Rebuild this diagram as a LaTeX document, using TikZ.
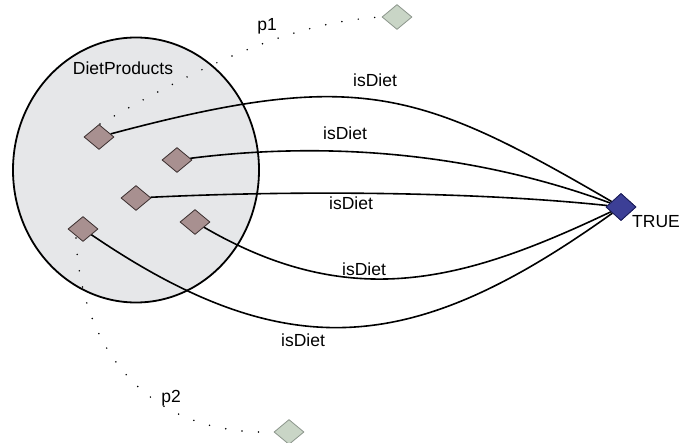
\documentclass[tikz,border=0pt]{standalone}
\usepackage{fontspec}
\setmainfont{Liberation Sans}
\usetikzlibrary{shapes.geometric}
\definecolor{setfill}{HTML}{E6E7E9}
\definecolor{brownfill}{HTML}{A89090}
\definecolor{brownline}{HTML}{3A2E2E}
\definecolor{greenfill}{HTML}{C9D5C6}
\definecolor{greenline}{HTML}{8C968C}
\definecolor{truefill}{HTML}{3C3F96}
\definecolor{trueline}{HTML}{1C1E5A}
\tikzset{
  item/.style={shape=diamond, draw=brownline, fill=brownfill, line width=0.8pt, minimum width=30pt, minimum height=25pt, inner sep=0pt},
  val/.style={shape=diamond, draw=greenline, fill=greenfill, line width=0.8pt, minimum width=30pt, minimum height=25pt, inner sep=0pt},
  truebox/.style={shape=diamond, draw=trueline, fill=truefill, line width=0.8pt, minimum width=30pt, minimum height=27pt, inner sep=0pt},
  rel/.style={draw=black, line width=1.6pt},
  prop/.style={draw=black, line width=1.7pt, line cap=round, dash pattern=on 0pt off 16.5pt},
  lbl/.style={font=\fontsize{17.5}{20}\selectfont, inner sep=0pt}
}
\begin{document}
\begin{tikzpicture}[x=1pt,y=-1pt]
\useasboundingbox (0,0) rectangle (679,443);
\node[draw=black, line width=1.8pt, fill=setfill, ellipse, minimum width=246pt, minimum height=265pt, inner sep=0pt] (set) at (136,170) {};
\node[lbl] (setlbl) at (123,68) {DietProducts};
\node[item] (d1) at (99,137) {};
\node[item] (d2) at (177,160) {};
\node[item] (d3) at (136,198) {};
\node[item] (d4) at (83,229) {};
\node[item] (d5) at (195,222) {};
\node[val] (p1v) at (397,17) {};
\node[val] (p2v) at (289,432) {};
\node[truebox] (t) at (621,207) {};
\node[lbl, anchor=west] (tl) at (632,222) {TRUE};
\coordinate (d1top) at (100,124);
\coordinate (d4bot) at (76,238);
\path[prop] (d1top) .. controls (200,67) and (290,22) .. (p1v.west);
\path[prop] (d4bot) .. controls (80,340) and (140,436) .. (p2v.west);
\node[lbl] (p1l) at (267,26) {p1};
\node[lbl] (p2l) at (171,398) {p2};
\path[rel] (d1) .. controls (358,68) and (418,89) .. (t);
\path[rel] (d2) .. controls (335,140) and (480,155) .. (t);
\path[rel] (d3) .. controls (300,190) and (480,192) .. (t);
\path[rel] (d5) .. controls (353,314) and (467,280) .. (t);
\path[rel] (d4) .. controls (290,370) and (417,353) .. (t);
\node[lbl] (l1) at (375,80) {isDiet};
\node[lbl] (l2) at (345,133) {isDiet};
\node[lbl] (l3) at (351,203) {isDiet};
\node[lbl] (l4) at (364,269) {isDiet};
\node[lbl] (l5) at (303,340) {isDiet};
\node[truebox] at (621,207) {};
\end{tikzpicture}
\end{document}
